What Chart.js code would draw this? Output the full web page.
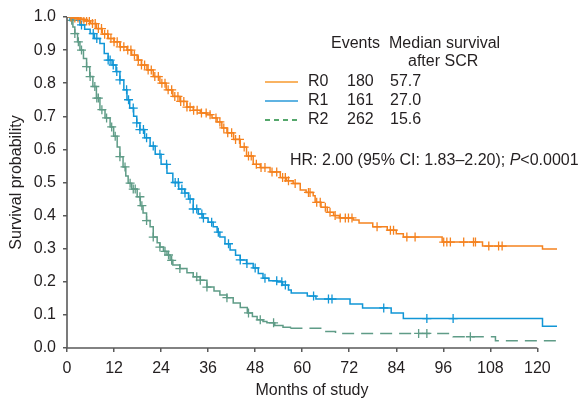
<!DOCTYPE html>
<html>
<head>
<meta charset="utf-8">
<script src="https://cdn.jsdelivr.net/npm/chart.js@4"></script>
<style>
  html, body { margin: 0; padding: 0; background: #fff; }
  #wrap { width: 581px; height: 401px; }
</style>
</head>
<body>
<div id="wrap"><canvas id="km" width="581" height="401"></canvas></div>
<script>
// Kaplan-Meier steps (months, survival after the step)
const r0Months = [0,1.5,3,4.5,6,7.5,9,10.5,12,13.5,15.3,16.5,17.9,19,20.4,22,23.7,25.3,27,28.8,30.6,32.2,34,35.7,37,38.3,39.5,40.8,42.5,44.2,45.8,47.5,49.3,51.8,54.4,56,57.7,59.5,61,62.8,63.3,64.8,66.4,68,69.5,73,74.5,78,81.7,84,85.8,95.7,106,121.3,125];
const r0Surv   = [1,0.997,0.993,0.988,0.98,0.965,0.948,0.935,0.925,0.91,0.9,0.885,0.87,0.855,0.84,0.82,0.8,0.78,0.76,0.745,0.728,0.718,0.71,0.705,0.695,0.683,0.665,0.65,0.63,0.607,0.58,0.555,0.545,0.532,0.515,0.505,0.497,0.477,0.47,0.46,0.44,0.425,0.41,0.4,0.393,0.387,0.378,0.366,0.356,0.345,0.335,0.32,0.308,0.299,0.299];

const r1Months = [0,1.5,3.3,4.5,5.9,7,8.4,9.5,10.5,11.5,12.5,13.5,14.5,15.3,16,17,17.8,18.6,19.8,21.2,22.5,24,25.5,27,28.5,30,31,32.2,33.5,34.7,36,37.3,38.3,39,40.3,41.6,43,44.2,45.8,47.5,48.8,50,51.5,53.6,55,56.5,57.2,61.3,63.5,72.2,75.4,82.7,85.8,121.3,125];
const r1Surv   = [1,0.99,0.976,0.963,0.95,0.935,0.92,0.89,0.87,0.855,0.835,0.81,0.78,0.75,0.725,0.7,0.68,0.66,0.635,0.61,0.585,0.555,0.528,0.5,0.48,0.468,0.45,0.42,0.405,0.393,0.38,0.366,0.35,0.335,0.315,0.296,0.28,0.266,0.255,0.242,0.225,0.211,0.203,0.2,0.19,0.175,0.166,0.157,0.148,0.133,0.121,0.106,0.089,0.066,0.066];

const r2Months = [0,0.8,1.5,2,2.7,3.3,4.2,5,5.8,6.6,7.5,8.4,9.7,11,11.9,12.8,13.5,14.3,15,15.6,16.5,17.9,18.7,19.4,20.3,21.2,22,23,23.7,24.6,25.5,26.3,27,28.8,30.6,32.2,34,35.7,37.5,39,40.8,42.4,44.2,46,47.3,48.5,50,51,53,55.1,57,65,68.5,98.5,109.3,125];
const r2Surv   = [1,0.99,0.97,0.95,0.925,0.9,0.875,0.85,0.82,0.79,0.755,0.72,0.695,0.668,0.64,0.607,0.578,0.547,0.52,0.498,0.48,0.457,0.43,0.408,0.385,0.366,0.335,0.318,0.305,0.292,0.281,0.265,0.251,0.24,0.227,0.215,0.205,0.184,0.172,0.16,0.152,0.136,0.122,0.106,0.095,0.085,0.08,0.076,0.068,0.063,0.06,0.05,0.044,0.034,0.022,0.022];

// censoring times (months)
const r0Censor = [1,2,2.8,3.5,4.3,5,5.7,6.5,7.2,8,8.8,9.6,10.4,11.2,12,12.8,13.6,14.5,15.5,16.3,17.2,18.2,19,19.8,20.7,21.5,22.4,23.3,24.2,25,25.8,26.7,27.5,28.3,29,29.8,30.6,31.4,32.3,33.2,34.3,35.5,36.5,38,39,40,41,42,43,44,45.2,46.3,47,48.3,49.5,50.5,52.3,53.5,55,55.7,56.5,58.2,61.6,62,63.7,64.6,65.9,67.1,68.4,69.7,71,71.8,72.7,79.1,82.5,83.3,86.7,88.8,96.1,96.9,97.8,101.2,103.7,104.2,107.6,110.1,111];
const r1Censor = [0.8,3.7,6.7,7.6,10.5,11,11.8,12.7,13.5,15.2,15.7,16.9,17.8,18.6,19.5,20.3,22,23.7,25.4,27.6,28.4,29.3,30.1,31.4,32.2,33.1,34.4,34.8,36.9,38.6,41.2,44.2,45.9,48,50.5,53.5,54.8,55.7,62.9,66.7,67.6,80.8,91.8,98.5];
const r2Censor = [1.2,2,2.9,3.7,5,5.9,7.1,7.6,8,8.9,10.1,11.4,12.3,13.5,14.8,16.1,16.9,17.4,18.6,19.1,20.3,22,23.7,25,25.9,26.7,28.8,33.1,34,35.7,40.8,46.3,49.3,52.7,89.7,91.8,102.9];

// legend table
const groups  = ['R0', 'R1', 'R2'];
const events  = ['180', '161', '262'];
const medians = ['57.7', '27.0', '15.6'];

const xTicks = [0,12,24,36,48,60,72,84,96,108,120];

const ORANGE = '#f5821f', BLUE = '#1196d6', GREEN = '#5f9c87';
const FONT = "'Liberation Sans', Arial, sans-serif";
const TXT = '#231f20';

function steps(months, surv) {
  return months.map((m, i) => ({x: m, y: surv[i]}));
}
// survival at time t from the step table
function survAt(months, surv, t) {
  let s = surv[0];
  for (let i = 0; i < months.length; i++) {
    if (months[i] <= t) s = surv[i]; else break;
  }
  return s;
}
function censorPts(cens, months, surv) {
  return cens.map(t => ({x: t, y: survAt(months, surv, t)}));
}

function curve(label, data, color, extra) {
  return Object.assign({
    type: 'line', label: label, data: data,
    borderColor: color, borderWidth: 1.5,
    stepped: true, pointRadius: 0, fill: false, order: 2
  }, extra || {});
}
function marks(data, color) {
  return {
    type: 'scatter', data: data,
    pointStyle: 'cross', pointRadius: 4.5, pointHoverRadius: 4.5,
    borderColor: color, backgroundColor: color, pointBorderWidth: 1.3, order: 1
  };
}

// axes lines + legend table + HR text
const overlay = {
  id: 'overlay',
  afterDraw(chart) {
    const ctx = chart.ctx;
    const xs = chart.scales.x, ys = chart.scales.y;
    ctx.save();
    ctx.strokeStyle = '#5a5a5a';
    ctx.lineWidth = 1.6;
    ctx.beginPath();
    ctx.moveTo(xs.getPixelForValue(0), ys.getPixelForValue(1));
    ctx.lineTo(xs.getPixelForValue(0), ys.getPixelForValue(0));
    ctx.lineTo(xs.getPixelForValue(120), ys.getPixelForValue(0));
    ctx.stroke();

    ctx.fillStyle = TXT;
    ctx.font = '16px ' + FONT;
    ctx.textBaseline = 'middle';
    ctx.textAlign = 'left';
    ctx.fillText('Events', 331, 44);
    ctx.fillText('Median survival', 389, 44);
    ctx.fillText('after SCR', 408, 62);

    const rowY = [82, 101, 120];
    const legCol = ['#f79a2e', '#2a9ad8', '#1e8a3c'];
    for (let i = 0; i < groups.length; i++) {
      ctx.strokeStyle = legCol[i];
      ctx.lineWidth = 1.3;
      ctx.setLineDash(i === 2 ? [5, 4] : []);
      ctx.beginPath();
      ctx.moveTo(265, rowY[i]);
      ctx.lineTo(298, rowY[i]);
      ctx.stroke();
      ctx.setLineDash([]);
      ctx.fillText(groups[i], 308, rowY[i]);
      ctx.fillText(events[i], 347, rowY[i]);
      ctx.fillText(medians[i], 390, rowY[i]);
    }

    let hx = 290, hy = 161;
    const part1 = 'HR: 2.00 (95% CI: 1.83\u20132.20); ';
    ctx.fillText(part1, hx, hy);
    hx += ctx.measureText(part1).width;
    ctx.font = 'italic 16px ' + FONT;
    ctx.fillText('P', hx, hy);
    hx += ctx.measureText('P').width;
    ctx.font = '16px ' + FONT;
    ctx.fillText('<0.0001', hx, hy);
    ctx.restore();
  }
};

new Chart(document.getElementById('km'), {
  data: {
    datasets: [
      curve('R0', steps(r0Months, r0Surv), ORANGE),
      curve('R1', steps(r1Months, r1Surv), BLUE),
      curve('R2', steps(r2Months, r2Surv), GREEN, {
        segment: { borderDash: c => c.p0.parsed.x >= 57 ? [12, 7] : undefined }
      }),
      marks(censorPts(r0Censor, r0Months, r0Surv), ORANGE),
      marks(censorPts(r1Censor, r1Months, r1Surv), BLUE),
      marks(censorPts(r2Censor, r2Months, r2Surv), GREEN)
    ]
  },
  options: {
    responsive: false,
    animation: false,
    events: [],
    layout: { padding: { top: 17, right: 24, bottom: 0, left: 0 } },
    plugins: { legend: { display: false }, tooltip: { enabled: false } },
    scales: {
      x: {
        type: 'linear', min: 0, max: 125,
        afterBuildTicks: s => { s.ticks = xTicks.map(v => ({value: v})); },
        afterFit: s => { s.height = 53; },
        border: { display: false },
        grid: { drawOnChartArea: false, drawTicks: true, tickLength: 4, color: '#5a5a5a', lineWidth: 1.5 },
        ticks: { color: TXT, font: { family: FONT, size: 16 }, padding: 7, maxRotation: 0 },
        title: { display: true, text: 'Months of study', color: TXT, font: { family: FONT, size: 16 }, padding: { top: 0, bottom: 1 } }
      },
      y: {
        type: 'linear', min: 0, max: 1,
        ticks: { stepSize: 0.1, color: TXT, font: { family: FONT, size: 16 }, padding: 7, callback: v => v.toFixed(1) },
        afterFit: s => { s.width = 67; },
        border: { display: false },
        grid: { drawOnChartArea: false, drawTicks: true, tickLength: 4, color: '#5a5a5a', lineWidth: 1.5 },
        title: { display: true, text: 'Survival probability', color: TXT, font: { family: FONT, size: 16 }, padding: { top: 7, bottom: 0 } }
      }
    }
  },
  plugins: [overlay]
});
</script>
</body>
</html>
